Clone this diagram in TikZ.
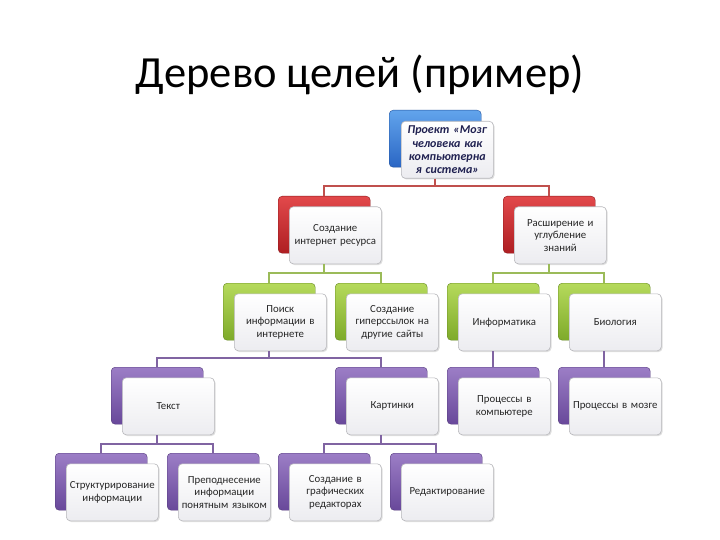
\documentclass[tikz,border=0pt]{standalone}
\usepackage{fontspec}
\setmainfont{Carlito}
\usetikzlibrary{calc,shadows}
\definecolor{cRed}{HTML}{C0504D}
\definecolor{cGreen}{HTML}{9BBB59}
\definecolor{cPurple}{HTML}{8064A2}
\definecolor{blueT}{HTML}{62A4EC}
\definecolor{blueB}{HTML}{2A66C4}
\definecolor{redT}{HTML}{E2494B}
\definecolor{redB}{HTML}{AE1E22}
\definecolor{greenT}{HTML}{B6DA5C}
\definecolor{greenB}{HTML}{7EAA2A}
\definecolor{purT}{HTML}{9C7EC6}
\definecolor{purB}{HTML}{68489A}
\definecolor{frontB}{HTML}{ECECF0}
\definecolor{frontBorder}{HTML}{B8B8BC}
\definecolor{navy}{HTML}{1F2050}
\begin{document}
\begin{tikzpicture}[x=1pt,y=-1pt,
  backbox/.style={rounded corners=4pt, minimum width=92pt, minimum height=57pt,
    anchor=north west, inner sep=0pt, line width=0.4pt},
  bblue/.style={backbox, top color=blueT, bottom color=blueB, draw=blueB!80!black},
  bred/.style={backbox, top color=redT, bottom color=redB, draw=redB!80!black},
  bgreen/.style={backbox, top color=greenT, bottom color=greenB, draw=greenB!80!black},
  bpur/.style={backbox, top color=purT, bottom color=purB, draw=purB!80!black},
  frontbox/.style={rounded corners=4pt, minimum width=92pt, minimum height=57pt,
    text width=90pt, inner sep=1pt, anchor=north west, align=center,
    draw=frontBorder, line width=0.6pt, top color=white, bottom color=frontB,
    drop shadow={opacity=0.25, shadow xshift=1.2pt, shadow yshift=-1.2pt},
    font=\fontsize{10.8}{12.5}\selectfont, text=black!85},
  conn/.style={line width=1.6pt},
  cr/.style={conn, draw=cRed},
  cg/.style={conn, draw=cGreen},
  cp/.style={conn, draw=cPurple}
]
\useasboundingbox (0,0) rectangle (720,540);
\fill[white] (0,0) rectangle (720,540);

% title
\node[anchor=base, inner sep=0pt, font=\fontsize{44.5}{52}\selectfont] (title) at (360,88) {Дерево целей (пример)};

% level helper coordinates (horizontal connector heights)
\coordinate (h1) at (0,186);
\coordinate (h2) at (0,273);
\coordinate (h3) at (0,358);
\coordinate (h4) at (0,444);

% level 1
\node[bblue] (b0) at (389,110) {};
\node[frontbox, font=\fontsize{12}{13.2}\selectfont\bfseries\itshape, text=navy] (f0) at ($(b0.north west)+(12,11)$) {Проект «Мозг\\человека как\\компьютерна\\я система»};

% level 2
\node[bred] (b1) at (278,196) {};
\node[frontbox] (f1) at ($(b1.north west)+(11,10.5)$) {Создание\\интернет ресурса};
\node[bred] (b2) at (503,196) {};
\node[frontbox] (f2) at ($(b2.north west)+(11,10.5)$) {Расширение и\\углубление\\знаний};

% level 3
\node[bgreen] (b3) at (223,283) {};
\node[frontbox] (f3) at ($(b3.north west)+(11,10.5)$) {Поиск\\информации в\\интернете};
\node[bgreen] (b4) at (335,283) {};
\node[frontbox] (f4) at ($(b4.north west)+(11,10.5)$) {Создание\\гиперссылок на\\другие сайты};
\node[bgreen] (b5) at (447,283) {};
\node[frontbox] (f5) at ($(b5.north west)+(11,10.5)$) {Информатика};
\node[bgreen] (b6) at (558,283) {};
\node[frontbox] (f6) at ($(b6.north west)+(11,10.5)$) {Биология};

% level 4
\node[bpur] (b7) at (111,367) {};
\node[frontbox] (f7) at ($(b7.north west)+(11,10.5)$) {Текст};
\node[bpur] (b8) at (335,367) {};
\node[frontbox] (f8) at ($(b8.north west)+(11,10.5)$) {Картинки};
\node[bpur] (b9) at (447,367) {};
\node[frontbox] (f9) at ($(b9.north west)+(11,10.5)$) {Процессы в\\компьютере};
\node[bpur] (b10) at (558,367) {};
\node[frontbox] (f10) at ($(b10.north west)+(11,10.5)$) {Процессы в мозге};

% level 5
\node[bpur] (b11) at (55,453) {};
\node[frontbox] (f11) at ($(b11.north west)+(11,10.5)$) {Структурирование\\информации};
\node[bpur] (b12) at (167,453) {};
\node[frontbox] (f12) at ($(b12.north west)+(11,10.5)$) {Преподнесение\\информации\\понятным языком};
\node[bpur] (b13) at (278,453) {};
\node[frontbox] (f13) at ($(b13.north west)+(11,10.5)$) {Создание в\\графических\\редакторах};
\node[bpur] (b14) at (390,453) {};
\node[frontbox] (f14) at ($(b14.north west)+(11,10.5)$) {Редактирование};

% connectors
\draw[cr] (b0.center |- f0.south) -- (b0.center |- h1) -| (b1.north);
\draw[cr] (b0.center |- h1) -| (b2.north);

\draw[cg] (b1.center |- f1.south) -- (b1.center |- h2) -| (b3.north);
\draw[cg] (b1.center |- h2) -| (b4.north);
\draw[cg] (b2.center |- f2.south) -- (b2.center |- h2) -| (b5.north);
\draw[cg] (b2.center |- h2) -| (b6.north);

\draw[cp] (b3.center |- f3.south) -- (b3.center |- h3) -| (b7.north);
\draw[cp] (b3.center |- h3) -| (b8.north);
\draw[cp] (b5.center |- f5.south) -- (b9.north);
\draw[cp] (b6.center |- f6.south) -- (b10.north);

\draw[cp] (b7.center |- f7.south) -- (b7.center |- h4) -| (b11.north);
\draw[cp] (b7.center |- h4) -| (b12.north);
\draw[cp] (b8.center |- f8.south) -- (b8.center |- h4) -| (b13.north);
\draw[cp] (b8.center |- h4) -| (b14.north);
\end{tikzpicture}
\end{document}
